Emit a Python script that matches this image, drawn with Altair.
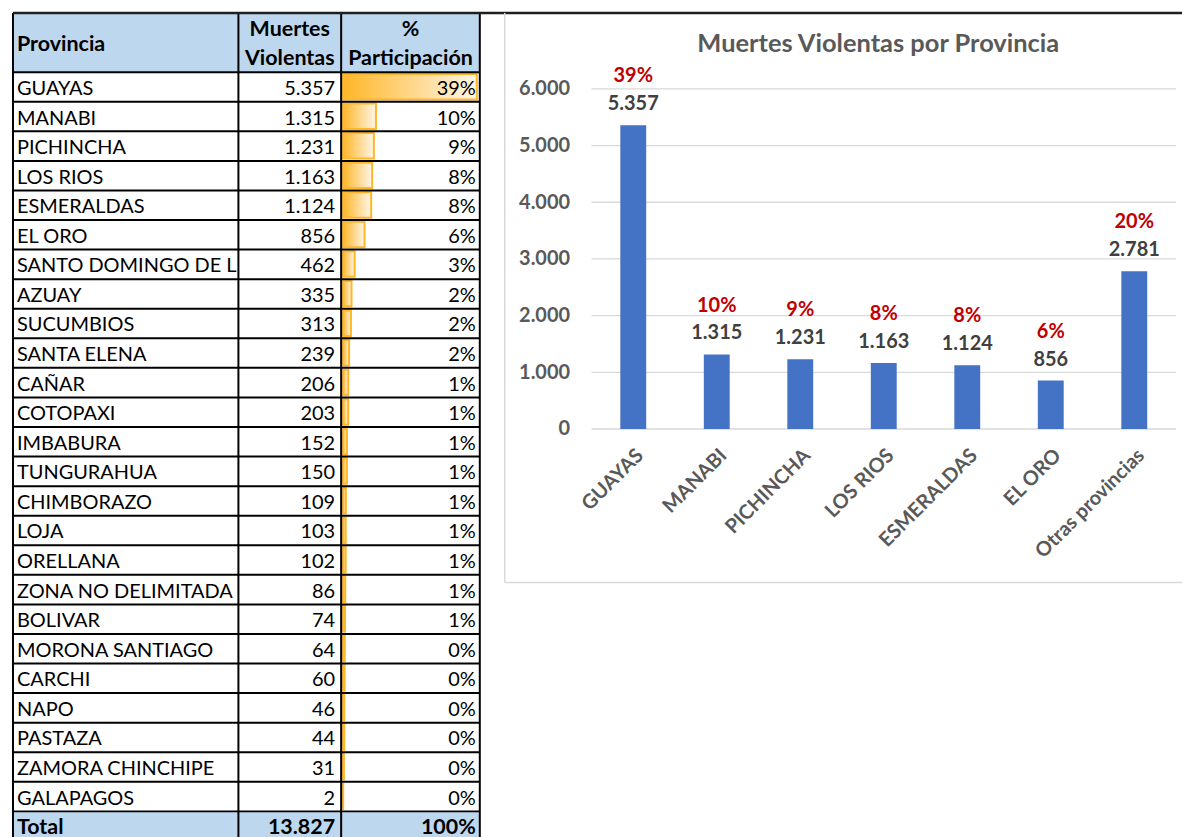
import altair as alt
import pandas as pd

# ---------------- data ----------------
provincias = ["GUAYAS", "MANABI", "PICHINCHA", "LOS RIOS", "ESMERALDAS", "EL ORO",
              "SANTO DOMINGO DE LOS TSACHILAS", "AZUAY", "SUCUMBIOS", "SANTA ELENA",
              "CAÑAR", "COTOPAXI", "IMBABURA", "TUNGURAHUA", "CHIMBORAZO", "LOJA",
              "ORELLANA", "ZONA NO DELIMITADA", "BOLIVAR", "MORONA SANTIAGO", "CARCHI",
              "NAPO", "PASTAZA", "ZAMORA CHINCHIPE", "GALAPAGOS"]
muertes = [5357, 1315, 1231, 1163, 1124, 856, 462, 335, 313, 239, 206, 203, 152, 150,
           109, 103, 102, 86, 74, 64, 60, 46, 44, 31, 2]
total = sum(muertes)
top_n = 6
otras_label = "Otras provincias"
chart_cats = provincias[:top_n] + [otras_label]
chart_vals = muertes[:top_n] + [total - sum(muertes[:top_n])]
y_ticks = [0, 1000, 2000, 3000, 4000, 5000, 6000]

# ---------------- layout constants ----------------
FONT = "Lato"
ROW_PX = 29.64
HEADER_ROWS = 2
n = len(provincias)
UNITS = HEADER_ROWS + n + 1
TW = 468
TH = round(UNITS * ROW_PX)
C1, C2 = 226, 329
BAR_X0, BAR_X1 = 331, 465
BW, BH = 679, 571
TXT_X = 4
NAME_LIMIT = 232

one = pd.DataFrame({"k": [0]})
tbl = pd.DataFrame({"provincia": provincias, "muertes": muertes,
                    "row": [HEADER_ROWS + i for i in range(n)]})
tot = pd.DataFrame({"label": ["Total"], "muertes": [total], "row": [HEADER_ROWS + n]})
bounds_df = pd.DataFrame({"b": [0] + list(range(HEADER_ROWS, UNITS + 1))})
fills_df = pd.DataFrame({"top": [0, HEADER_ROWS + n], "bot": [HEADER_ROWS, UNITS]})

ysc = alt.Scale(domain=[0, UNITS], reverse=True, nice=False, zero=False)


def Y(f):
    return alt.Y(f, type="quantitative", scale=ysc, axis=None)


num_expr = "replace(format(datum.muertes, ','), ',', '.')"
pct_expr = f"format(datum.muertes / {total}, '.0%')"

grad = alt.LinearGradient(gradient="linear",
                          stops=[alt.GradientStop(color="#FFB628", offset=0),
                                 alt.GradientStop(color="#FFF6E8", offset=1)],
                          x1=0, x2=1, y1=0, y2=0)

txt = dict(font=FONT, fontSize=20, color="black", baseline="middle", dy=2)
btxt = dict(txt, fontWeight="bold", fontSize=21.5)

bg = alt.Chart(fills_df).mark_rect(color="#BDD7EE").encode(
    y=Y("top"), y2="bot", x=alt.value(0), x2=alt.value(TW))

databar = alt.Chart(tbl).transform_calculate(
    t="datum.row + 0.06", b2="datum.row + 0.92", z0="0"
).mark_rect(fill=grad, stroke="#FFB628", strokeWidth=2).encode(
    x=alt.X("muertes:Q", scale=alt.Scale(domain=[0, max(muertes)], range=[BAR_X0, BAR_X1]), axis=None),
    x2="z0:Q", y=Y("t"), y2="b2:Q")

prov_txt = alt.Chart(tbl).transform_calculate(yc="datum.row + 0.5").mark_text(
    align="left", limit=NAME_LIMIT, ellipsis=" ", **txt).encode(
    x=alt.value(TXT_X), y=Y("yc"), text="provincia:N")
num_txt = alt.Chart(tbl).transform_calculate(yc="datum.row + 0.5", s=num_expr).mark_text(
    align="right", **txt).encode(x=alt.value(C2 - 6), y=Y("yc"), text="s:N")
pct_txt = alt.Chart(tbl).transform_calculate(yc="datum.row + 0.5", s=pct_expr).mark_text(
    align="right", **txt).encode(x=alt.value(TW - 4), y=Y("yc"), text="s:N")

tot_lab = alt.Chart(tot).transform_calculate(yc="datum.row + 0.5").mark_text(
    align="left", **btxt).encode(x=alt.value(TXT_X), y=Y("yc"), text="label:N")
tot_num = alt.Chart(tot).transform_calculate(yc="datum.row + 0.5", s=num_expr).mark_text(
    align="right", **btxt).encode(x=alt.value(C2 - 6), y=Y("yc"), text="s:N")
tot_pct = alt.Chart(tot).transform_calculate(yc="datum.row + 0.5", s=pct_expr).mark_text(
    align="right", **btxt).encode(x=alt.value(TW - 4), y=Y("yc"), text="s:N")


def header(label, xpx, yunit, align):
    return alt.Chart(one).transform_calculate(yc=str(yunit)).mark_text(
        text=label, align=align, **btxt).encode(x=alt.value(xpx), y=Y("yc"))


h_prov = header("Provincia", TXT_X, HEADER_ROWS / 2, "left")
h_m1 = header("Muertes", (C1 + C2) / 2, 0.5, "center")
h_m2 = header("Violentas", (C1 + C2) / 2, 1.5, "center")
h_p1 = header("%", (C2 + TW) / 2, 0.5, "center")
h_p2 = header("Participación", (C2 + TW) / 2, 1.5, "center")

hlines = alt.Chart(bounds_df).mark_rule(color="black", strokeWidth=2).encode(
    y=Y("b"), x=alt.value(0), x2=alt.value(TW))
vlines = [alt.Chart(one).transform_calculate(y0="0", y1=str(UNITS)).mark_rule(
    color="black", strokeWidth=2).encode(x=alt.value(px), y=Y("y0"), y2="y1:Q")
    for px in [0, C1, C2, TW]]
topline = alt.Chart(one).transform_calculate(y0="0").mark_rule(
    color="#1F1F1F", strokeWidth=2.5).encode(y=Y("y0"), x=alt.value(0), x2=alt.value(1172))

table = alt.layer(bg, databar, prov_txt, num_txt, pct_txt, tot_lab, tot_num, tot_pct,
                  h_prov, h_m1, h_m2, h_p1, h_p2, hlines, *vlines, topline
                  ).properties(width=TW, height=TH)

# ---------------- bar chart ----------------
bar_df = pd.DataFrame({"cat": chart_cats, "v": chart_vals})
grid_df = pd.DataFrame({"v": y_ticks})

xs = alt.Scale(domain=chart_cats, range=[87, 673], paddingInner=0.69, paddingOuter=0.345)
ys = alt.Scale(domain=[0, max(y_ticks)], range=[417, 76], nice=False, zero=True)
X = alt.X("cat:N", sort=chart_cats, scale=xs,
          axis=alt.Axis(title=None, labelAngle=-45, labelFont=FONT, labelFontSize=20,
                        labelFontWeight="bold", labelColor="#595959", domain=False,
                        ticks=False, offset=-154, labelPadding=16))
YB = alt.Y("v:Q", scale=ys,
           axis=alt.Axis(title=None, values=y_ticks, grid=False, domain=False, ticks=False,
                         labelExpr="replace(format(datum.value, ','), ',', '.')",
                         labelFont=FONT, labelFontSize=20, labelFontWeight="bold",
                         labelColor="#595959", offset=-65, labelPadding=0))

grid = alt.Chart(grid_df).mark_rule(color="#D9D9D9", strokeWidth=1.3).encode(
    y=YB, x=alt.value(87), x2=alt.value(673))
bars = alt.Chart(bar_df).mark_bar(color="#4472C4").encode(x=X, y=YB)
vlab = alt.Chart(bar_df).transform_calculate(
    s="replace(format(datum.v, ','), ',', '.')"
).mark_text(dy=-21, font=FONT, fontSize=20, fontWeight="bold", color="#404040",
            baseline="middle").encode(x=X, y=YB, text="s:N")
plab = alt.Chart(bar_df).transform_calculate(
    s=f"format(datum.v / {total}, '.0%')"
).mark_text(dy=-49, font=FONT, fontSize=20, fontWeight="bold", color="#C00000",
            baseline="middle").encode(x=X, y=YB, text="s:N")
frameL = alt.Chart(one).mark_rule(color="#D9D9D9", strokeWidth=1.5).encode(
    x=alt.value(0), y=alt.value(0), y2=alt.value(BH))
frameB = alt.Chart(one).mark_rule(color="#D9D9D9", strokeWidth=1.5).encode(
    y=alt.value(BH), x=alt.value(0), x2=alt.value(BW))

barchart = alt.layer(frameL, frameB, grid, bars, vlab, plab).properties(
    width=BW, height=BH,
    title=alt.TitleParams("Muertes Violentas por Provincia", font=FONT, fontSize=25.5,
                          fontWeight="bold", color="#595959", anchor="middle",
                          offset=-45, dx=35))

chart = alt.hconcat(table, barchart, spacing=25, bounds="flush").properties(
    padding={"left": 3, "top": 2, "right": 0, "bottom": 0}
).configure_view(stroke=None)

chart.save("out.html", embed_options={"renderer": "svg", "actions": False})
